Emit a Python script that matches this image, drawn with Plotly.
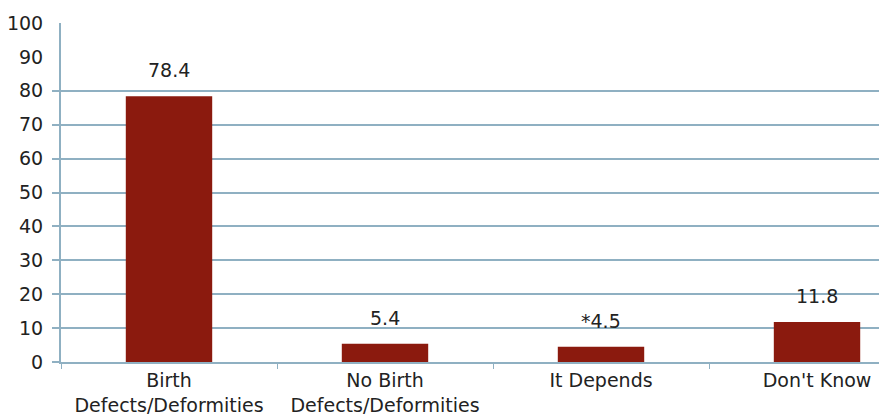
import plotly.graph_objects as go

categories = ["Birth<br>Defects/Deformities", "No Birth<br>Defects/Deformities", "It Depends", "Don't Know"]
values = [78.4, 5.4, 4.5, 11.8]
value_labels = ["78.4", "5.4", "*4.5", "11.8"]
y_ticks = [0, 10, 20, 30, 40, 50, 60, 70, 80, 90, 100]
grid_ticks = [0, 10, 20, 30, 40, 50, 60, 70, 80]

BAR = "#8b1a0e"
LINE = "#8fb0c2"
TXT = "#222222"
FONT = "DejaVu Sans, Liberation Sans, Arial, sans-serif"
FS = 19

fig = go.Figure()
fig.add_trace(go.Bar(x=categories, y=values, marker=dict(color=BAR, line=dict(width=0)),
                     width=0.4, hoverinfo="skip", showlegend=False))
fig.add_trace(go.Scatter(x=categories, y=values, yaxis="y2", mode="none",
                         hoverinfo="skip", showlegend=False))

for c, v, t in zip(categories, values, value_labels):
    fig.add_annotation(x=c, y=v, text=t, showarrow=False, yanchor="bottom",
                       yshift=13, font=dict(family=FONT, size=FS, color=TXT))

fig.update_layout(
    width=879, height=419,
    margin=dict(l=61, r=0, t=23, b=57),
    paper_bgcolor="white", plot_bgcolor="white",
    bargap=0.6,
    xaxis=dict(range=[-0.5, 3.287], showline=True, linecolor=LINE, linewidth=2,
               ticks="outside", tickson="boundaries", ticklen=5, tickcolor=LINE,
               showgrid=False, tickfont=dict(family=FONT, size=FS, color=TXT)),
    yaxis=dict(range=[0, 100], tickvals=y_ticks, showgrid=False, zeroline=False,
               showline=True, linecolor=LINE, linewidth=2, ticks="",
               ticklabelstandoff=12,
               tickfont=dict(family=FONT, size=FS, color=TXT)),
    yaxis2=dict(range=[0, 100], overlaying="y", side="left", tickvals=grid_ticks,
                showticklabels=False, showgrid=True, gridcolor=LINE, gridwidth=1.5,
                zeroline=False, ticks="outside", ticklen=8, tickcolor=LINE, tickwidth=1.5,
                showline=False),
)

fig.write_html("out.html")
